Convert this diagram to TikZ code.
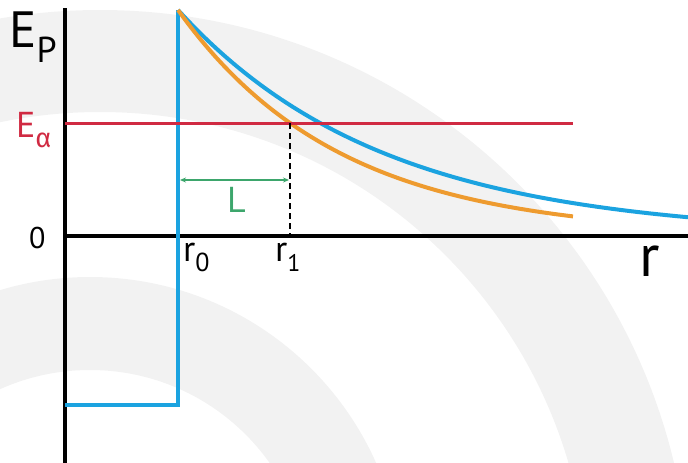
\documentclass[tikz,border=0pt]{standalone}
\usepackage{fontspec}
\setmainfont{PT Sans}
\newfontfamily\greekfont{Fira Sans}
\usetikzlibrary{arrows.meta}
\definecolor{wmgrey}{HTML}{F2F2F2}
\definecolor{potblue}{HTML}{1BA3E0}
\definecolor{potorange}{HTML}{EE9B2F}
\definecolor{potred}{HTML}{D02A42}
\definecolor{potgreen}{HTML}{3DA66C}
\tikzset{
  axisline/.style={line width=3.2pt, black},
  blueline/.style={line width=4pt, potblue, line join=miter},
  orangeline/.style={line width=4pt, potorange},
  redline/.style={line width=3pt, potred},
  dashline/.style={line width=1.2pt, black, dash pattern=on 6pt off 4pt},
  lenarrow/.style={line width=1.5pt, potgreen, {Stealth[length=6pt,width=5pt]}-{Stealth[length=6pt,width=5pt]}},
  lbl/.style={inner sep=0pt, anchor=base west},
}
\newcommand{\fsz}[1]{\fontsize{#1}{#1}\selectfont}
\begin{document}
\begin{tikzpicture}[x=1pt,y=-1pt]
\useasboundingbox (0,0) rectangle (688,463);
% watermark rings
\begin{scope}
\clip (0,0) rectangle (688,463);
\fill[wmgrey,even odd rule] (100,600) circle[radius=590] (100,600) circle[radius=488];
\fill[wmgrey,even odd rule] (90,590) circle[radius=313] (90,590) circle[radius=220];
\end{scope}
% coordinates
\coordinate (otop) at (65,8);
\coordinate (obot) at (65,463);
\coordinate (origin) at (65,236);
\coordinate (xend) at (688,236);
\coordinate (peak) at (178,10);
\coordinate (wellR) at (178,405);
\coordinate (wellL) at (65,405);
\coordinate (ea) at (65,123);
\coordinate (eaend) at (573,123);
\coordinate (r1top) at (290,123);
\coordinate (r1bot) at (290,236);
\coordinate (La) at (180,180);
\coordinate (Lb) at (289,180);
% axes
\draw[axisline] (otop) -- (obot);
\draw[axisline] (origin) -- (xend);
% potential
\draw[blueline] (wellL) -- (wellR) -- (peak);
\draw[blueline] plot[domain=178:688, samples=120, smooth] (\x, {236-226*exp(-(\x-178)/205)});
\draw[orangeline] plot[domain=178:573, samples=120, smooth] (\x, {236-226*exp(-(\x-178)/161.6)});
% energy level
\draw[redline] (ea) -- (eaend);
\draw[dashline] (r1top) -- (r1bot);
\draw[lenarrow] (La) -- (Lb);
% labels
\node[lbl, font=\fsz{51}] (ep) at (9,47) {E\raisebox{-15pt}{\fsz{36}P}};
\node[lbl, font=\fsz{36}, text=potred] (ealpha) at (16,137) {E\raisebox{-10pt}{\greekfont\fsz{27}α}};
\node[lbl, font=\fsz{30}] (zero) at (29,248) {0};
\node[lbl, font=\fsz{36}] (r0) at (183,261) {r\raisebox{-10pt}{\fsz{26}0}};
\node[lbl, font=\fsz{36}] (r1) at (275,261) {r\raisebox{-10pt}{\fsz{24}1}};
\node[lbl, font=\fsz{60}] (raxis) at (639,276) {r};
\node[lbl, font=\fsz{36}, text=potgreen] (L) at (227,212) {L};
\end{tikzpicture}
\end{document}
